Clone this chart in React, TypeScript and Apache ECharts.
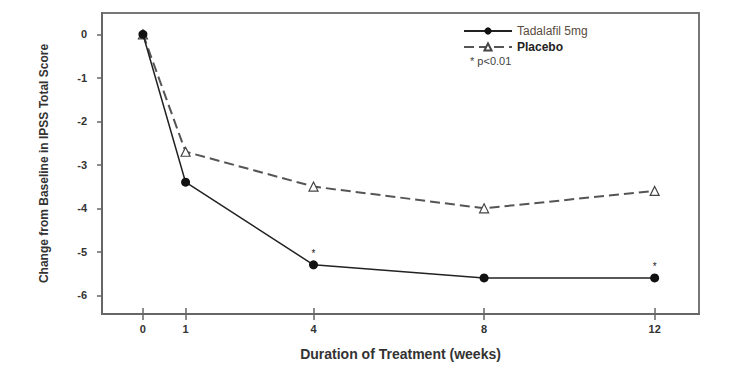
import React, { useEffect, useRef } from "react";
import * as echarts from "echarts";

const weeks = [0, 1, 4, 8, 12];
const tadalafil = [0, -3.4, -5.3, -5.6, -5.6];
const placebo = [0, -2.7, -3.5, -4.0, -3.6];
const significant = [false, false, true, false, true];
const xTicks = [0, 1, 4, 8, 12];
const yTicks = [0, -1, -2, -3, -4, -5, -6];
const seriesNames = ["Tadalafil 5mg", "Placebo"];
const noteText = "* p<0.01";
const xTitle = "Duration of Treatment (weeks)";
const yTitle = "Change from Baseline in IPSS Total Score";

export default function App() {
  const ref = useRef<HTMLDivElement>(null);
  useEffect(() => {
    if (!ref.current) return;
    const chart = echarts.init(ref.current, null, { renderer: "svg" });
    const font = "Liberation Sans, Arial, sans-serif";
    const tadData = weeks.map((w, i) => ({
      value: [w, tadalafil[i]],
      label: significant[i]
        ? { show: true, formatter: "*", position: "top", distance: 2, fontSize: 10, color: "#222", fontFamily: font }
        : { show: false },
    }));
    const plaData = weeks.map((w, i) => [w, placebo[i]]);
    chart.setOption({
      animation: false,
      backgroundColor: "#fff",
      textStyle: { fontFamily: font },
      grid: {
        left: 102,
        right: 37,
        top: 13,
        bottom: 61,
        show: true,
        borderColor: "#777",
        borderWidth: 2,
        backgroundColor: "transparent",
      },
      legend: {
        orient: "vertical",
        left: 458,
        top: 20,
        itemWidth: 48,
        itemHeight: 9,
        itemGap: 4,
        textStyle: { fontSize: 12, color: "#444", fontFamily: font },
        data: [
          { name: seriesNames[0], textStyle: { color: "#5a4b40" } },
          { name: seriesNames[1], textStyle: { color: "#222", fontWeight: "bold" } },
        ],
      },
      graphic: [
        {
          type: "text",
          left: 470,
          top: 55,
          style: { text: noteText, fontSize: 11, fill: "#444", fontFamily: font },
        },
      ],
      xAxis: [
        {
          type: "value",
          min: -0.96,
          max: 13.04,
          name: xTitle,
          nameLocation: "middle",
          nameGap: 33,
          nameTextStyle: { fontSize: 14, fontWeight: "bold", color: "#333", fontFamily: font },
          splitLine: { show: false },
          axisLine: { show: true, onZero: false, lineStyle: { color: "#666", width: 2 } },
          axisTick: { show: true, length: 6, customValues: xTicks, lineStyle: { color: "#666", width: 1.5 } },
          axisLabel: { customValues: xTicks, margin: 9, fontSize: 11, fontWeight: "bold", color: "#333", fontFamily: font },
        },
        {
          type: "value",
          position: "bottom",
          min: -0.96,
          max: 13.04,
          splitLine: { show: false },
          axisLine: { show: false, onZero: false },
          axisTick: { show: true, inside: true, length: 6, customValues: xTicks, lineStyle: { color: "#666", width: 1.5 } },
          axisLabel: { show: false },
        },
      ],
      yAxis: {
        type: "value",
        min: -6.43,
        max: 0.49,
        name: yTitle,
        nameLocation: "middle",
        nameGap: 52,
        nameTextStyle: { fontSize: 12, fontWeight: "bold", color: "#333", fontFamily: font },
        splitLine: { show: false },
        axisLine: { show: true, onZero: false, lineStyle: { color: "#666", width: 2 } },
        axisTick: { show: true, length: 5, customValues: yTicks, lineStyle: { color: "#666", width: 1.5 } },
        axisLabel: { customValues: yTicks, margin: 15, fontSize: 11, fontWeight: "bold", color: "#333", fontFamily: font },
      },
      series: [
        {
          name: seriesNames[0],
          type: "line",
          data: tadData,
          symbol: "circle",
          symbolSize: 9,
          itemStyle: { color: "#111" },
          lineStyle: { color: "#222", width: 1.5 },
          z: 3,
        },
        {
          name: seriesNames[1],
          type: "line",
          data: plaData,
          symbol: "triangle",
          symbolSize: 9,
          itemStyle: { color: "#fff", borderColor: "#444", borderWidth: 1.2 },
          lineStyle: { color: "#555", width: 2, type: [10, 5] },
          z: 2,
        },
      ],
    });
    return () => chart.dispose();
  }, []);
  return (
    <div
      ref={ref}
      style={{ position: "fixed", left: 0, top: 0, width: 736, height: 375, background: "#fff" }}
    />
  );
}
